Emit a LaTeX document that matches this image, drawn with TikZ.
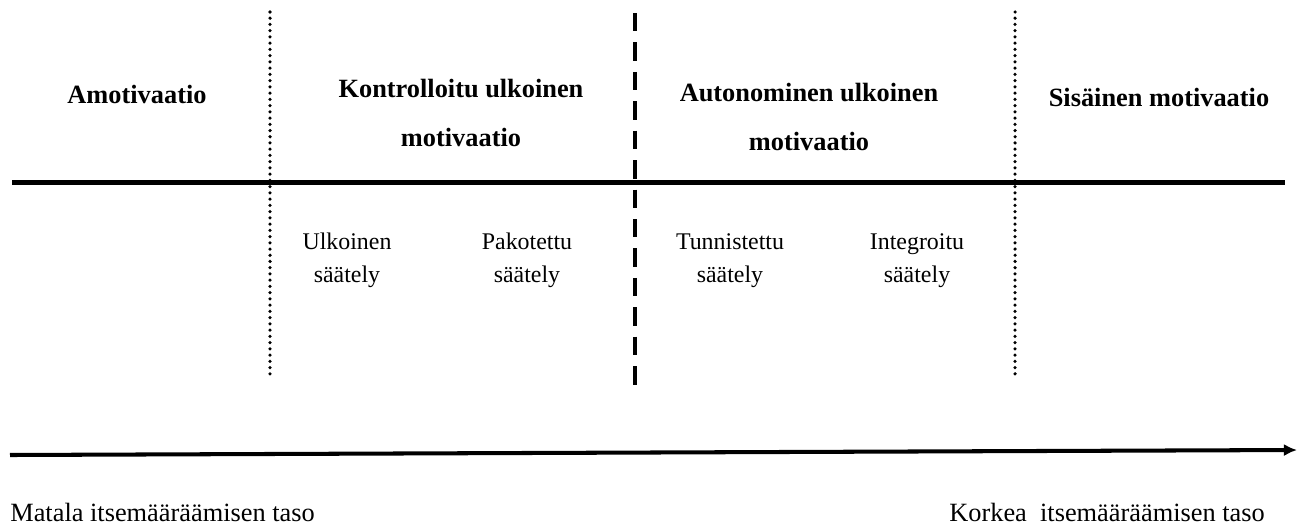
\documentclass[tikz,border=0pt]{standalone}
\usepackage{fontspec}
\setmainfont{Liberation Serif}
\usetikzlibrary{arrows.meta, positioning}

\begin{document}
\begin{tikzpicture}[x = 0.02cm, y = 0.02cm]
		\tikzstyle{trait}=[line width=2.3pt]
		\tikzstyle{pointille}=[line width=2pt, line cap=round, dash pattern=on 0pt off 3.55pt]
		\tikzstyle{tirets}=[line width=2.4pt, dash pattern=on 10.5pt off 6.25pt]
		\tikzstyle{fleche}=[-{Latex[length=7.5pt,width=7pt]}, line width=2.3pt]
		\tikzstyle{titre}=[anchor=base, align=center, inner sep=0pt,
		  font=\fontsize{15}{27.4}\selectfont\bfseries]
		\tikzstyle{niveau}=[anchor=base, align=center, inner sep=0pt,
		  font=\fontsize{13.6}{18.7}\selectfont]
		\tikzstyle{taso}=[anchor=base west, inner sep=0pt,
		  font=\fontsize{15}{18}\selectfont]
		\useasboundingbox (0,0) rectangle (1301,529);
		% jakoviivat
		\coordinate (v1) at (12,346.5); \coordinate (v2) at (1285,346.5);
		\coordinate (p1) at (270,517); \coordinate (p2) at (270,151);
		\coordinate (k1) at (635,516); \coordinate (k2) at (635,143);
		\coordinate (q1) at (1015,517); \coordinate (q2) at (1015,151);
		\draw[trait] (v1) -- (v2);
		\draw[pointille] (p1) -- (p2);
		\draw[tirets] (k1) -- (k2);
		\draw[pointille] (q1) -- (q2);
		% otsikot (base = viimeisen rivin perusviiva)
		\node[titre] (amot) at (137,426) {Amotivaatio};
		\node[titre] (kontr) at (461,383) {Kontrolloitu ulkoinen\\motivaatio};
		\node[titre] (auton) at (809,379) {Autonominen ulkoinen\\motivaatio};
		\node[titre] (sisa) at (1159,423) {Sisäinen motivaatio};
		% säätelyt
		\node[niveau] (ulk) at (347,247) {Ulkoinen\\säätely};
		\node[niveau] (pak) at (527,247) {Pakotettu\\säätely};
		\node[niveau] (tun) at (730,247) {Tunnistettu\\säätely};
		\node[niveau] (int) at (917,247) {Integroitu\\säätely};
		% akseli
		\coordinate (a1) at (10,74); \coordinate (a2) at (1297,79);
		\draw[fleche] (a1) -- (a2);
		\node[taso] (matala) at (10,8) {Matala itsemääräämisen taso};
		\node[taso] (korkea) at (949,8) {Korkea\ \ itsemääräämisen taso};
\end{tikzpicture}
\end{document}
